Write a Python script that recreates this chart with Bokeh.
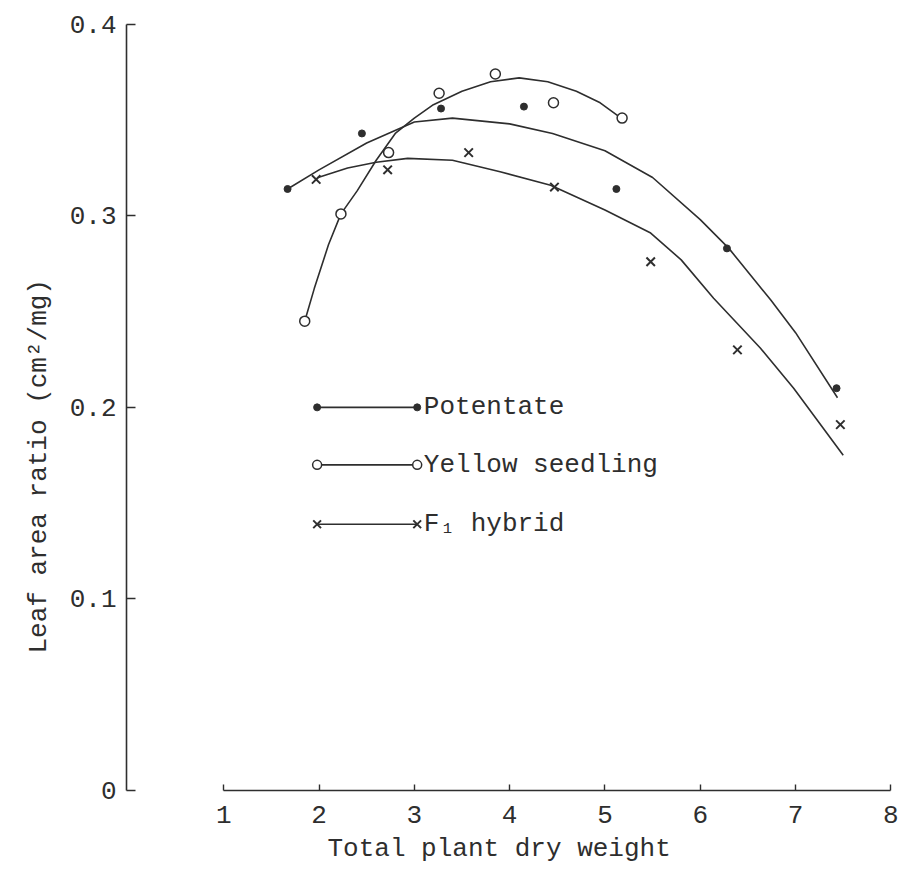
import math
from bokeh.plotting import figure
from bokeh.models import Range1d, FixedTicker, Title
from bokeh.core.properties import value
from bokeh.embed import file_html
from bokeh.resources import INLINE

# ---- data ----
x_ticks = [1, 2, 3, 4, 5, 6, 7, 8]
y_ticks = [0, 0.1, 0.2, 0.3, 0.4]
y_tick_labels = ["0", "0.1", "0.2", "0.3", "0.4"]

pot_x = [1.67, 2.45, 3.28, 4.15, 5.12, 6.28, 7.43]
pot_y = [0.314, 0.343, 0.356, 0.357, 0.314, 0.283, 0.210]

yel_x = [1.85, 2.23, 2.73, 3.26, 3.85, 4.46, 5.18]
yel_y = [0.245, 0.301, 0.333, 0.364, 0.374, 0.359, 0.351]

f1_x = [1.97, 2.72, 3.57, 4.47, 5.48, 6.39, 7.47]
f1_y = [0.319, 0.324, 0.333, 0.315, 0.276, 0.230, 0.191]

# hand-drawn fitted curves
pot_curve_x = [1.67, 2.0, 2.5, 3.0, 3.4, 4.0, 4.45, 5.0, 5.5, 6.0, 6.3, 6.74, 7.0, 7.44]
pot_curve_y = [0.314, 0.324, 0.338, 0.349, 0.351, 0.348, 0.343, 0.334, 0.320, 0.298, 0.283, 0.256, 0.239, 0.205]

yel_curve_x = [1.85, 1.95, 2.1, 2.23, 2.4, 2.6, 2.8, 3.0, 3.2, 3.5, 3.8, 4.1, 4.4, 4.7, 4.95, 5.17]
yel_curve_y = [0.245, 0.262, 0.285, 0.301, 0.313, 0.329, 0.343, 0.351, 0.358, 0.365, 0.370, 0.372, 0.370, 0.365, 0.359, 0.351]

f1_curve_x = [1.99, 2.3, 2.6, 2.93, 3.4, 3.9, 4.43, 5.0, 5.48, 5.8, 6.14, 6.63, 6.98, 7.5]
f1_curve_y = [0.320, 0.325, 0.328, 0.330, 0.329, 0.323, 0.316, 0.303, 0.291, 0.277, 0.257, 0.231, 0.210, 0.175]

legend_names = ["Potentate", "Yellow seedling", "F\u2081  hybrid"]

x_title = "Total plant dry weight"
y_title = "Leaf area ratio (cm\u00b2/mg)"

# ---- styling ----
INK = "#2e2e2e"
FONT = "Liberation Mono"
FS = "26px"

p = figure(frame_width=772, frame_height=772,
           min_border_left=126, min_border_right=0,
           min_border_top=18, min_border_bottom=80,
           x_range=Range1d(-0.02, 8.08), y_range=Range1d(0, 0.403),
           output_backend="svg", toolbar_location=None,
           background_fill_color="white", border_fill_color="white")
p.outline_line_color = None
p.grid.visible = False

# x axis
xa = p.xaxis[0]
xa.ticker = FixedTicker(ticks=x_ticks)
xa.bounds = (1, 8)
xa.axis_line_color = INK
xa.axis_line_width = 1.6
xa.major_tick_line_color = INK
xa.major_tick_line_width = 1.4
xa.major_tick_in = 6
xa.major_tick_out = 0
xa.minor_tick_line_color = None
xa.major_label_standoff = 15
xa.major_label_text_font = FONT
xa.major_label_text_font_size = FS
xa.major_label_text_color = INK

# y axis
ya = p.yaxis[0]
ya.ticker = FixedTicker(ticks=y_ticks)
ya.bounds = (0, 0.4)
ya.major_label_overrides = {t: s for t, s in zip(y_ticks, y_tick_labels)}
ya.axis_line_color = INK
ya.axis_line_width = 1.6
ya.major_tick_line_color = INK
ya.major_tick_line_width = 1.4
ya.major_tick_in = 9
ya.major_tick_out = 0
ya.minor_tick_line_color = None
ya.major_label_standoff = 10
ya.major_label_text_font = FONT
ya.major_label_text_font_size = FS
ya.major_label_text_color = INK
ya.major_label_orientation = "horizontal"

# curves
p.line(pot_curve_x, pot_curve_y, line_color=INK, line_width=1.6)
p.line(yel_curve_x, yel_curve_y, line_color=INK, line_width=1.6)
p.line(f1_curve_x, f1_curve_y, line_color=INK, line_width=1.6)

# points
p.scatter(pot_x, pot_y, marker="circle", size=7, fill_color=INK, line_color=INK)
p.scatter(yel_x, yel_y, marker="circle", size=10, fill_color="white", line_color=INK, line_width=1.5)
p.scatter(f1_x, f1_y, marker="x", size=12, line_color=INK, line_width=2)

# in-plot legend (typed key as in the original)
leg_x0, leg_x1, leg_tx = 1.98, 3.03, 3.1
leg_y = [0.200, 0.170, 0.139]
markers = [("circle", 7, INK, 1), ("circle", 9, "white", 1.5), ("x", 11, None, 2)]
for name, yy, (mk, sz, fc, lw) in zip(legend_names, leg_y, markers):
    p.line([leg_x0, leg_x1], [yy, yy], line_color=INK, line_width=1.6)
    if mk == "x":
        p.scatter([leg_x0, leg_x1], [yy, yy], marker="x", size=sz, line_color=INK, line_width=lw)
    else:
        p.scatter([leg_x0, leg_x1], [yy, yy], marker=mk, size=sz, fill_color=fc,
                  line_color=INK, line_width=lw)
    p.text([leg_tx], [yy], text=[name], text_font=value(FONT), text_font_size=FS,
           text_color=INK, text_align="left", text_baseline="middle")

# axis titles as side-panel titles (positioned like the typed originals)
p.add_layout(Title(text=x_title, align="left", offset=201, standoff=12,
                   text_font=FONT, text_font_size=FS, text_font_style="normal",
                   text_color=INK), "below")
p.add_layout(Title(text=y_title, align="left", offset=137, standoff=26,
                   text_font=FONT, text_font_size=FS, text_font_style="normal",
                   text_color=INK), "left")

open("out.html", "w").write(file_html(p, INLINE))
